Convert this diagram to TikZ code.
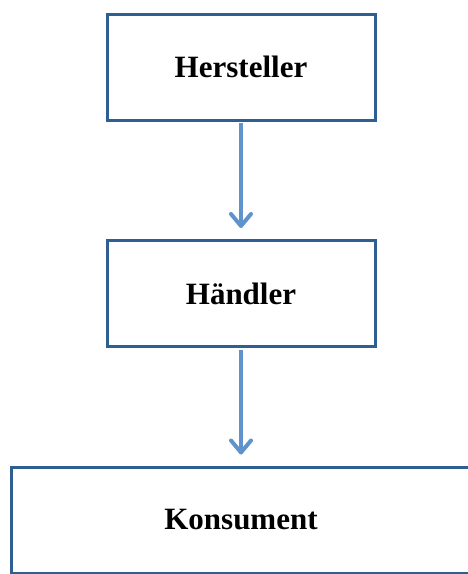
\documentclass[tikz,border=0pt]{standalone}
\usepackage{fontspec}
\setmainfont{Liberation Serif}
\usetikzlibrary{positioning,arrows.meta,shadows}

\definecolor{boxblue}{HTML}{2F5E93}
\definecolor{arrowblue}{HTML}{6092CB}

\tikzset{
  stage/.style={draw=boxblue, line width=3pt, fill=white,
    minimum width=268pt, minimum height=106pt,
    font=\fontsize{31}{36}\selectfont\bfseries,
    drop shadow={shadow xshift=1.2pt, shadow yshift=-1.8pt, opacity=0.3, fill=black!70}},
  flow/.style={arrowblue, line width=3.5pt, shorten >=11pt, shorten <=1.5pt},
}

\begin{document}
\begin{tikzpicture}[->,>={Straight Barb[length=12pt,width=20pt,line width=4pt,round]},
      node distance=226.5pt,on grid,auto]
  \useasboundingbox (0pt,0pt) rectangle (467pt,-574pt);
  \node[stage] (her) at (241pt,-67pt) {Hersteller};
  \node[stage] (hae) [below=of her] {Händler};
  \node[stage, minimum width=460pt] (kon) [below=of hae] {Konsument};
  \path[flow]
    (her) edge (hae)
    (hae) edge (kon);
\end{tikzpicture}
\end{document}
